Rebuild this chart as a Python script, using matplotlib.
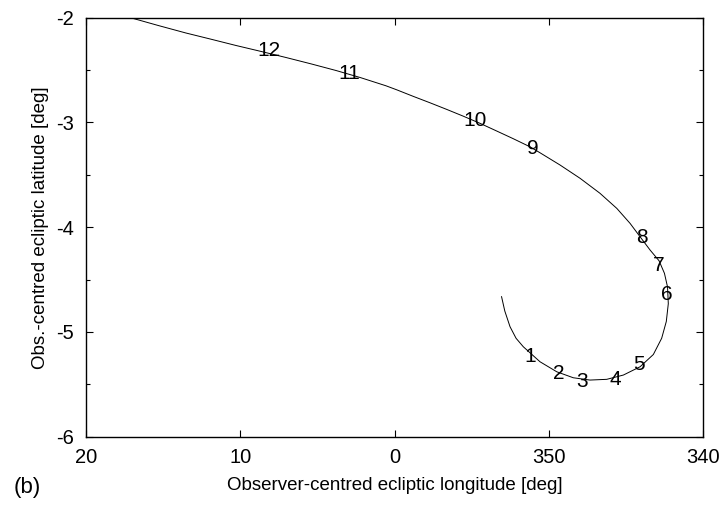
import matplotlib
matplotlib.use("Agg")
import matplotlib.pyplot as plt
from matplotlib.ticker import MultipleLocator, FuncFormatter

plt.rcParams['font.family'] = ['Liberation Sans', 'DejaVu Sans']
plt.rcParams['axes.unicode_minus'] = False

# apparent path (longitude wrapped to -20..20, latitude)
lon = [-6.94, -7.15, -7.49, -7.88, -8.35, -9.43, -10.52, -11.59, -12.67,
       -13.76, -14.84, -15.92, -16.78, -17.32, -17.62, -17.75, -17.70, -17.50,
       -17.15, -16.57, -15.92, -15.27, -14.41, -13.32, -12.03, -10.73, -9.43,
       -8.78, -7.70, -6.63, -5.54, -4.46, -3.38, -2.30, -1.22, -0.14, 0.55,
       2.20, 3.79, 5.40, 7.03, 8.65, 10.28, 11.90, 13.52, 15.30, 17.04, 17.40]
lat = [-4.663, -4.800, -4.950, -5.060, -5.141, -5.284, -5.380, -5.437, -5.459,
       -5.452, -5.411, -5.332, -5.215, -5.060, -4.900, -4.730, -4.570, -4.440,
       -4.320, -4.218, -4.091, -3.963, -3.820, -3.676, -3.533, -3.406, -3.289,
       -3.232, -3.155, -3.082, -3.008, -2.940, -2.875, -2.812, -2.751, -2.688,
       -2.650, -2.572, -2.504, -2.441, -2.380, -2.322, -2.265, -2.205, -2.146,
       -2.075, -2.003, -1.990]

# month markers along the path
mark_txt = ['1', '2', '3', '4', '5', '6', '7', '8', '9', '10', '11', '12']
mark_lon = [-8.78, -10.62, -12.14, -14.29, -15.87, -17.65, -17.15, -16.07,
            -8.96, -5.22, 2.93, 8.12]
mark_lat = [-5.236, -5.40, -5.475, -5.449, -5.306, -4.638, -4.361, -4.10,
            -3.247, -2.977, -2.537, -2.315]

fig = plt.figure(figsize=(7.27, 5.12), dpi=100)
ax = fig.add_axes([0.1183, 0.147, 0.8487, 0.8184])

ax.plot(lon, lat, color='black', linewidth=0.7)
for t, x, y in zip(mark_txt, mark_lon, mark_lat):
    ax.text(x, y, t, fontsize=15, ha='center', va='center')

ax.set_xlim(20, -20)
ax.set_ylim(-6, -2)
ax.xaxis.set_major_locator(MultipleLocator(10))
ax.yaxis.set_major_locator(MultipleLocator(1))
ax.yaxis.set_minor_locator(MultipleLocator(0.5))
ax.xaxis.set_major_formatter(FuncFormatter(lambda v, p: '%d' % (round(v) % 360)))
ax.yaxis.set_major_formatter(FuncFormatter(lambda v, p: '%d' % round(v)))

ax.tick_params(which='both', direction='in', top=True, right=True, labelsize=14.5)
ax.tick_params(which='major', length=5, width=0.8)
ax.tick_params(which='minor', length=3, width=0.8)
ax.tick_params(axis='x', pad=8)
ax.tick_params(axis='y', pad=9)
for s in ax.spines.values():
    s.set_linewidth(1.0)

ax.set_xlabel('Observer-centred ecliptic longitude [deg]', fontsize=13.5, labelpad=7)
ax.set_ylabel('Obs.-centred ecliptic latitude [deg]', fontsize=13.5, labelpad=5)
fig.text(0.038, 0.048, '(b)', fontsize=16, ha='center', va='center')

fig.savefig('out.png', dpi=100)
